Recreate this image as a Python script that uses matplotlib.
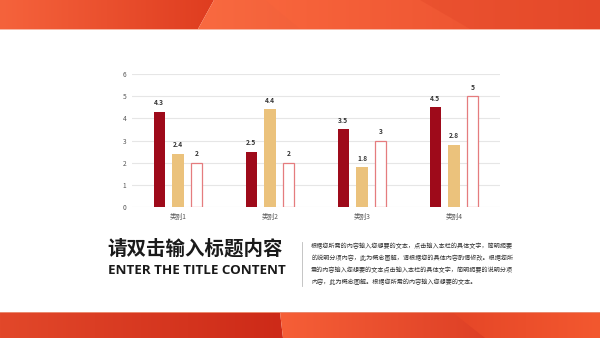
import numpy as np
import matplotlib.pyplot as plt
from matplotlib.patches import Polygon, Rectangle
from matplotlib.colors import LinearSegmentedColormap

plt.rcParams['font.family'] = ['Noto Sans CJK SC', 'DejaVu Sans']

categories = ["类别1", "类别2", "类别3", "类别4"]
series_a = [4.3, 2.5, 3.5, 4.5]
series_b = [2.4, 4.4, 1.8, 2.8]
series_c = [2, 2, 3, 5]
y_ticks = [0, 1, 2, 3, 4, 5, 6]

title_cn = "请双击输入标题内容"
title_en = "ENTER THE TITLE CONTENT"
body_lines = [
    "根据您所需的内容输入您想要的文本，点击输入本栏的具体文字，简明扼要",
    "的说明分项内容，此为概念图解，请根据您的具体内容酌情修改。根据您所",
    "需的内容输入您想要的文本点击输入本栏的具体文字，简明扼要的说明分项",
    "内容，此为概念图解。根据您所需的内容输入您想要的文本。",
]

fig = plt.figure(figsize=(6, 3.38), dpi=100)
fig.patch.set_facecolor('white')

# background layer in pixel coordinates
bg = fig.add_axes([0, 0, 1, 1])
bg.set_xlim(0, 600)
bg.set_ylim(338, 0)
bg.axis('off')


def gradient_poly(pts, c0, c1, z=1):
    # fill a polygon with a left-to-right colour ramp
    xs = [p[0] for p in pts]
    ys = [p[1] for p in pts]
    cmap = LinearSegmentedColormap.from_list('band', [c0, c1])
    grad = np.linspace(0, 1, 256).reshape(1, -1)
    im = bg.imshow(grad, extent=(min(xs), max(xs), max(ys), min(ys)), cmap=cmap,
                   aspect='auto', zorder=z)
    clip = Polygon(pts, closed=True, facecolor='none', edgecolor='none')
    bg.add_patch(clip)
    im.set_clip_path(clip)


# top band
gradient_poly([(0, 0), (214, 0), (198, 29), (0, 29)], '#F5633C', '#DF3D20')
gradient_poly([(214, 0), (600, 0), (600, 29), (198, 29)], '#F96A40', '#E2472A')
gradient_poly([(265, 0), (600, 0), (600, 29), (300, 29)], '#F8653C', '#E84C2C', z=2)
bg.add_patch(Polygon([(420, 0), (600, 0), (600, 29), (470, 29)], closed=True,
                     facecolor='#DE4225', edgecolor='none', alpha=0.3, zorder=2))
bg.add_patch(Rectangle((0, 28.5), 600, 1.2, facecolor='#F7B8A6', edgecolor='none', zorder=3))

# bottom band
gradient_poly([(0, 312), (280, 312), (283, 338), (0, 338)], '#E2482A', '#CD2A18')
gradient_poly([(280, 312), (600, 312), (600, 338), (283, 338)], '#F65F37', '#D02E1C')
gradient_poly([(452, 312), (600, 312), (600, 338), (485, 338)], '#E54627', '#F3582F', z=2)
bg.add_patch(Rectangle((0, 311.5), 600, 1.0, facecolor='#E98A70', edgecolor='none', zorder=3))

# titles and description
bg.text(107, 249, title_cn, fontsize=14, fontweight='bold', color='#1A1A1A',
        va='center', ha='left', zorder=3)
bg.text(108, 271, title_en, fontsize=9.6, fontweight='bold', color='#1A1A1A',
        va='center', ha='left', zorder=3, family=['Open Sans', 'DejaVu Sans'])
bg.plot([302, 302], [242, 286], color='#BBBBBB', lw=0.6, zorder=3)
for i, line in enumerate(body_lines):
    bg.text(311, 246 + i * 12, line, fontsize=4.4, color='#333333',
            va='center', ha='left', zorder=3)

# chart
ax = fig.add_axes([132 / 600, 1 - 207 / 338, 368 / 600, 133 / 338])
ax.set_facecolor('none')
x = np.arange(len(categories))
w = 0.12
off = 0.206

ax.bar(x - off, series_a, w, color='#9E0A1A', zorder=3)
ax.bar(x, series_b, w, color='#EBC27C', zorder=3)
ax.bar(x + off, series_c, w, facecolor='white', edgecolor='#E57C7E', linewidth=0.9, zorder=3)

for xs, vals in ((x - off, series_a), (x, series_b), (x + off, series_c)):
    for xi, v in zip(xs, vals):
        ax.annotate(f"{v:g}", (xi, v), xytext=(0, 4), textcoords='offset points',
                    ha='center', va='bottom', fontsize=4.8, fontweight='bold', color='#333333')

ax.set_xlim(-0.5, len(categories) - 0.5)
ax.set_ylim(0, 6)
ax.set_yticks(y_ticks)
ax.set_xticks(x)
ax.set_xticklabels(categories)
ax.tick_params(axis='both', length=0, labelsize=4.8, labelcolor='#555555', pad=4)
ax.grid(axis='y', color='#E6E6E6', lw=0.8, zorder=0)
for s in ax.spines.values():
    s.set_visible(False)

fig.savefig('out.png', dpi=100)
